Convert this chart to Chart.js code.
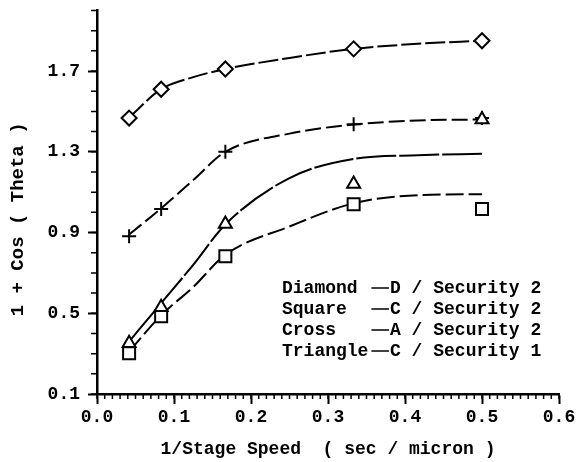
<!DOCTYPE html>
<html>
<head>
<meta charset="utf-8">
<script src="https://cdn.jsdelivr.net/npm/chart.js@4"></script>
<style>
  html, body { margin: 0; padding: 0; background: #fff; }
</style>
</head>
<body>
<canvas id="chart" width="581" height="462"></canvas>
<script>
// measured stage speeds (1/speed, sec per micron)
const speedX = [0.0417, 0.0833, 0.1667, 0.3333, 0.5];
const diamondPts = [1.467, 1.61, 1.71, 1.81, 1.85];
const squarePts = [0.302, 0.485, 0.783, 1.04, 1.016];
const crossPts = [0.882, 1.016, 1.30, 1.437, 1.467];
const trianglePts = [0.351, 0.53, 0.942, 1.14, 1.46];

// fitted curves
const fitX = [0.0417, 0.0833, 0.125, 0.1667, 0.25, 0.3333, 0.4167, 0.5];
const diamondFit = [1.47, 1.61, 1.67, 1.71, 1.765, 1.81, 1.835, 1.85];
const squareFit = [0.31, 0.49, 0.63, 0.79, 0.93, 1.045, 1.085, 1.09];
const crossFit = [0.89, 1.02, 1.16, 1.30, 1.39, 1.435, 1.455, 1.46];
const triangleFit = [0.36, 0.55, 0.74, 0.94, 1.17, 1.265, 1.283, 1.29];

const xTicks = [0.0, 0.1, 0.2, 0.3, 0.4, 0.5, 0.6];
const yTicks = [0.1, 0.5, 0.9, 1.3, 1.7];

const legendNames = ['Diamond', 'Square', 'Cross', 'Triangle'];
const legendCodes = ['D / Security 2', 'C / Security 2', 'A / Security 2', 'C / Security 1'];

const MONO = '"Liberation Mono", "DejaVu Sans Mono", monospace';

// minor tick positions
const xMinor = [];
for (let i = 0; i <= 60; i++) xMinor.push(i / 100);
const yMinor = [];
for (let i = 1; i <= 20; i++) yMinor.push(i / 10);

function pts(xs, ys) { return xs.map((x, i) => ({ x: x, y: ys[i] })); }

function fitSet(ys, dash) {
    return {
        data: pts(fitX, ys), borderColor: '#000', borderWidth: 2, borderDash: dash,
        pointRadius: 0, tension: 0.4, cubicInterpolationMode: 'monotone', fill: false, order: 2
    };
}

function markSet(ys, style, r) {
    return {
        data: pts(speedX, ys), showLine: false, pointStyle: style, pointRadius: r,
        pointBorderWidth: 2, pointBorderColor: '#000', pointBackgroundColor: '#fff', order: 1
    };
}

const extras = {
    id: 'extras',
    afterDraw(chart) {
        const { ctx, scales: { x, y } } = chart;
        ctx.save();
        ctx.strokeStyle = '#000';
        ctx.lineWidth = 1.5;
        ctx.beginPath();
        xMinor.forEach(v => {
            const px = x.getPixelForValue(v);
            ctx.moveTo(px, y.bottom); ctx.lineTo(px, y.bottom + 5);
        });
        yMinor.forEach(v => {
            const py = y.getPixelForValue(v);
            ctx.moveTo(x.left, py); ctx.lineTo(x.left - 6, py);
        });
        ctx.stroke();

        // legend block inside the plot
        ctx.font = 'bold 18px ' + MONO;
        ctx.fillStyle = '#000';
        ctx.textBaseline = 'middle';
        const cell = ctx.measureText('M').width;
        const x0 = 282;
        legendNames.forEach((name, i) => {
            const yy = 288 + i * 21;
            ctx.fillText(name, x0, yy);
            ctx.beginPath();
            ctx.lineWidth = 1.5;
            ctx.moveTo(x0 + cell * 8 + 3, yy); ctx.lineTo(x0 + cell * 10 - 1, yy);
            ctx.stroke();
            ctx.fillText(legendCodes[i], x0 + cell * 10, yy);
        });
        ctx.restore();
    }
};

new Chart(document.getElementById('chart'), {
    type: 'line',
    data: {
        datasets: [
            markSet(trianglePts, 'triangle', 7.5),
            markSet(crossPts, 'cross', 7),
            markSet(diamondPts, 'rectRot', 7.5),
            markSet(squarePts, 'rect', 8.5),
            fitSet(diamondFit, [20, 4]),
            fitSet(crossFit, [16, 5]),
            fitSet(triangleFit, [40, 3]),
            fitSet(squareFit, [18, 5])
        ]
    },
    options: {
        responsive: false,
        animation: false,
        layout: { padding: { left: 0, top: 8, right: 22, bottom: 0 } },
        plugins: { legend: { display: false }, tooltip: { enabled: false } },
        scales: {
            x: {
                type: 'linear', min: 0, max: 0.6,
                afterBuildTicks: s => { s.ticks = xTicks.map(v => ({ value: v })); },
                afterFit: s => { s.height = 68; s.paddingRight = 0; s.paddingLeft = 0; },
                border: { display: true, color: '#000', width: 2.5 },
                grid: { drawOnChartArea: false, drawTicks: true, tickLength: 10, tickWidth: 2, tickColor: '#000' },
                ticks: { color: '#000', padding: 3, font: { family: MONO, size: 18, weight: 'bold' },
                         callback: v => v.toFixed(1) },
                title: { display: true, text: '1/Stage Speed  ( sec / micron )', color: '#000',
                         font: { family: MONO, size: 18, weight: 'bold' }, padding: { top: 0, bottom: 2 } }
            },
            y: {
                type: 'linear', min: 0.1, max: 2.0,
                afterBuildTicks: s => { s.ticks = yTicks.map(v => ({ value: v })); },
                afterFit: s => { s.width = 97; s.paddingTop = 0; s.paddingBottom = 0; },
                border: { display: true, color: '#000', width: 2.5 },
                grid: { drawOnChartArea: false, drawTicks: true, tickLength: 9, tickWidth: 2, tickColor: '#000' },
                ticks: { color: '#000', padding: 8, font: { family: MONO, size: 18, weight: 'bold' },
                         callback: v => v.toFixed(1) },
                title: { display: true, text: '1 + Cos ( Theta )   ', color: '#000',
                         font: { family: MONO, size: 19, weight: 'bold' }, padding: { top: 7, bottom: 0 } }
            }
        }
    },
    plugins: [extras]
});
</script>
</body>
</html>
